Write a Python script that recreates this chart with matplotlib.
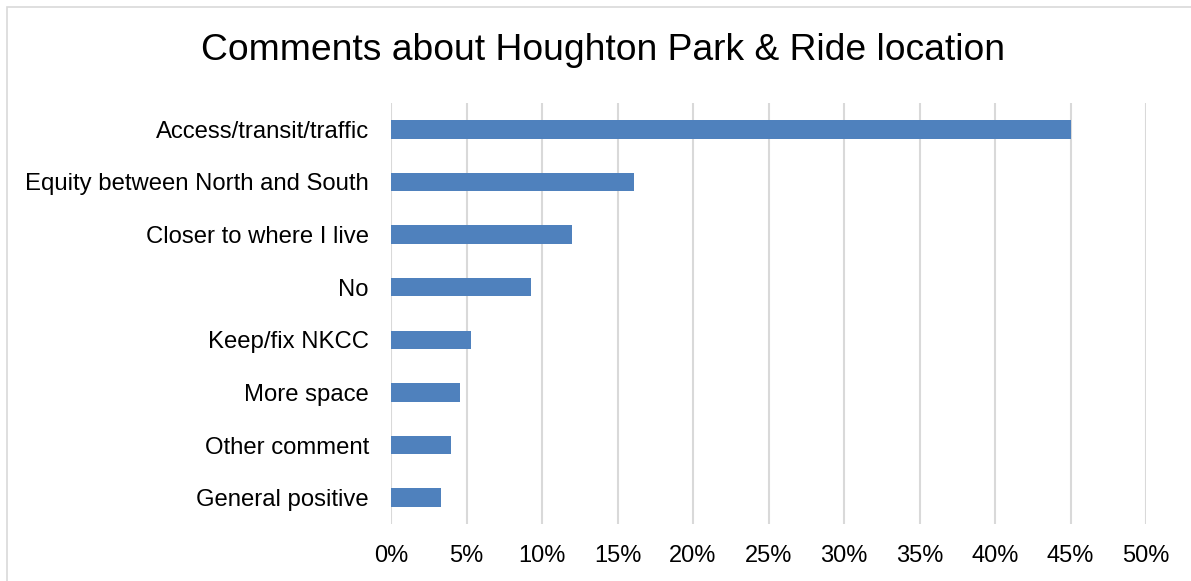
import matplotlib.pyplot as plt
from matplotlib.patches import Rectangle
from matplotlib.ticker import PercentFormatter

categories = ['Access/transit/traffic', 'Equity between North and South',
              'Closer to where I live', 'No', 'Keep/fix NKCC', 'More space',
              'Other comment', 'General positive']
values = [45.0, 16.1, 12.0, 9.3, 5.3, 4.6, 4.0, 3.3]
xticks = [0, 5, 10, 15, 20, 25, 30, 35, 40, 45, 50]

plt.rcParams['font.family'] = ['Liberation Sans', 'DejaVu Sans']

W, H = 1191, 581
fig = plt.figure(figsize=(W / 100, H / 100), dpi=100)
ax = fig.add_axes([391 / W, 1 - 524 / H, (1146 - 391) / W, (524 - 103) / H])

y = list(range(len(categories)))
ax.barh(y, values, height=0.35, color='#4F81BD', zorder=3)

ax.set_ylim(len(categories) - 0.5, -0.5)
ax.set_xlim(0, 50)
ax.set_yticks(y)
ax.set_yticklabels(categories, fontsize=17.2)
ax.set_xticks(xticks)
ax.xaxis.set_major_formatter(PercentFormatter(decimals=0))
ax.tick_params(axis='x', labelsize=17, length=0, pad=15)
ax.tick_params(axis='y', length=0, pad=16)
ax.grid(axis='x', color='#D9D9D9', linewidth=1.5, zorder=0)
for s in ax.spines.values():
    s.set_visible(False)

fig.text(603 / W, 1 - 51 / H, 'Comments about Houghton Park & Ride location',
         ha='center', va='center', fontsize=26.8)

# outer chart border
fig.patches.append(Rectangle((7 / W, -0.01), 1.02, 1 - 7 / H + 0.01,
                             transform=fig.transFigure, fill=False,
                             edgecolor='#D9D9D9', linewidth=1.2))

plt.savefig('out.png', dpi=100)
